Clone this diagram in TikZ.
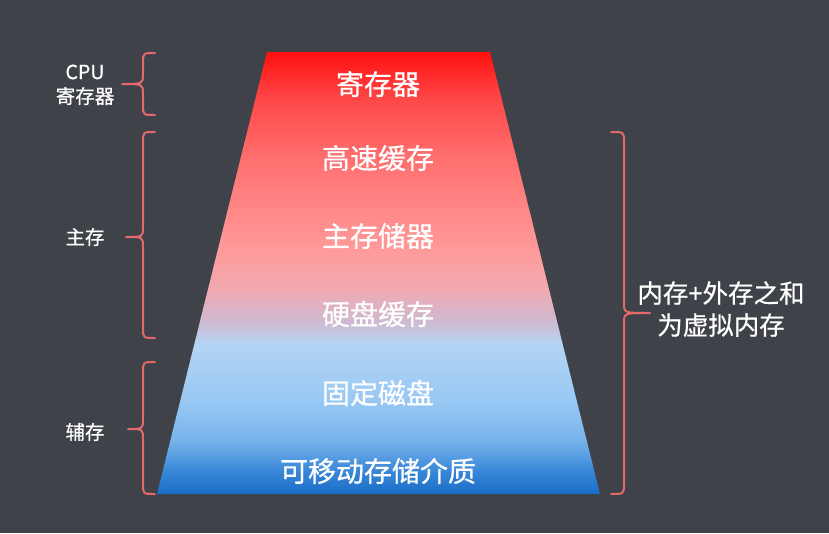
\documentclass[tikz,border=0pt]{standalone}
\usepackage{fontspec}
\setmainfont{Noto Sans CJK SC}
\newfontfamily\medfont{Noto Sans CJK SC}[FakeBold=0.6]
\usetikzlibrary{calc}
\definecolor{bg}{HTML}{3F4249}
\definecolor{bracec}{HTML}{E46A6A}
\definecolor{g0}{HTML}{1A6CC8}
\definecolor{g1}{HTML}{3A88D8}
\definecolor{g2}{HTML}{78B4EC}
\definecolor{g3}{HTML}{98C8F4}
\definecolor{g4}{HTML}{B4D4F4}
\definecolor{g5}{HTML}{D0B8D0}
\definecolor{g6}{HTML}{F0AAB0}
\definecolor{g7}{HTML}{FF9A9A}
\definecolor{g8}{HTML}{FF7070}
\definecolor{g9}{HTML}{FF4848}
\definecolor{g10}{HTML}{FF1010}
\pgfdeclareverticalshading{memgrad}{100bp}{color(0bp)=(g0); color(25bp)=(g0); color(27.7bp)=(g1); color(31.1bp)=(g2); color(35.6bp)=(g3); color(41.9bp)=(g4); color(44.7bp)=(g5); color(48.1bp)=(g6); color(52.6bp)=(g7); color(62.8bp)=(g8); color(69.6bp)=(g9); color(75bp)=(g10); color(100bp)=(g10)}
\tikzset{
  lvl/.style={text=white, font=\medfont\fontsize{28}{30}\selectfont, inner sep=0pt},
  side/.style={text=white, font=\medfont\fontsize{19.5}{23}\selectfont, inner sep=0pt, align=center},
  note/.style={text=white, font=\medfont\fontsize{25.5}{32}\selectfont, inner sep=0pt, align=center},
  bracel/.style={draw=bracec, line width=2pt, line cap=round, line join=round},
}
\newcommand{\membrace}[6]{% xe, xb, xt, ytop, ym, ybot
  \draw[bracel] (#1,#4) .. controls (#2,#4) .. (#2,#4+10) -- (#2,#5-10) .. controls (#2,#5) .. (#3,#5) .. controls (#2,#5) .. (#2,#5+10) -- (#2,#6-10) .. controls (#2,#6) .. (#1,#6);}
\begin{document}
\begin{tikzpicture}[x=1pt,y=-1pt]
\fill[bg] (0,0) rectangle (829,533);
\useasboundingbox (0,0) rectangle (829,533);
% trapezoid
\shade[shading=memgrad] (267,52) -- (490,52) -- (600,494) -- (157,494) -- cycle;
% levels
\node[lvl] (l1) at (378,84) {寄存器};
\node[lvl] (l2) at (378,158) {高速缓存};
\node[lvl] (l3) at (378,236) {主存储器};
\node[lvl] (l4) at (378,314) {硬盘缓存};
\node[lvl] (l5) at (378,393) {固定磁盘};
\node[lvl] (l6) at (378,471) {可移动存储介质};
% left braces
\membrace{155}{143}{122}{53}{84}{115}
\membrace{155}{143}{126}{132}{237}{338}
\membrace{155}{143}{128}{362}{429}{494}
% right brace
\membrace{611}{624}{650}{132}{313}{494}
% side labels
\node[side] (cpu) at (85,72) {CPU};
\node[side] (reg) at (85,96) {寄存器};
\node[side] (main) at (85,237) {主存};
\node[side] (aux) at (85,432) {辅存};
\node[note] (virt) at (721,309) {内存+外存之和\\为虚拟内存};
\end{tikzpicture}
\end{document}
